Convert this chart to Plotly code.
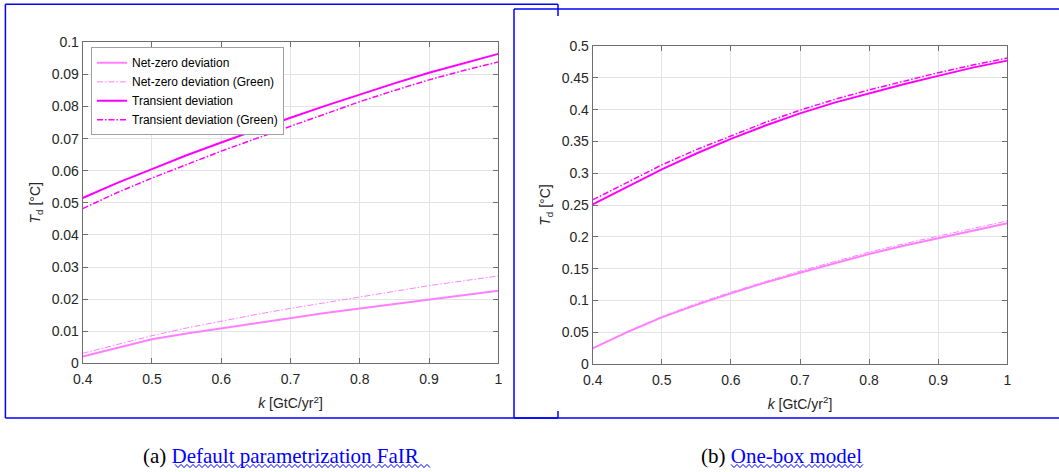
import plotly.graph_objects as go
from plotly.subplots import make_subplots

W, H = 1059, 472

# Emission-rate parameter k [GtC/yr^2]
k = [0.40, 0.45, 0.50, 0.55, 0.60, 0.65, 0.70, 0.75, 0.80, 0.85, 0.90, 0.95, 1.00]

# (a) Default parametrization FaIR
fair_netzero = [0.0021, 0.0048, 0.0075, 0.0093, 0.0109, 0.0126, 0.0142, 0.0157, 0.0171, 0.0185, 0.0199, 0.0213, 0.0226]
fair_netzero_green = [0.0031, 0.0059, 0.0086, 0.0110, 0.0132, 0.0152, 0.0171, 0.0189, 0.0207, 0.0225, 0.0242, 0.0257, 0.0272]
fair_transient = [0.0515, 0.0562, 0.0605, 0.0648, 0.0688, 0.0727, 0.0765, 0.0802, 0.0838, 0.0872, 0.0905, 0.0935, 0.0964]
fair_transient_green = [0.0482, 0.0532, 0.0577, 0.0620, 0.0661, 0.0700, 0.0738, 0.0775, 0.0815, 0.0850, 0.0883, 0.0912, 0.0939]

# (b) One-box model
box_netzero = [0.0246, 0.0500, 0.0734, 0.0930, 0.1110, 0.1280, 0.1436, 0.1580, 0.1730, 0.1860, 0.1976, 0.2100, 0.2212]
box_netzero_green = [0.0246, 0.0510, 0.0745, 0.0950, 0.1130, 0.1300, 0.1460, 0.1610, 0.1760, 0.1890, 0.2010, 0.2130, 0.2250]
box_transient = [0.251, 0.279, 0.306, 0.331, 0.354, 0.375, 0.394, 0.411, 0.426, 0.440, 0.453, 0.466, 0.477]
box_transient_green = [0.258, 0.286, 0.313, 0.337, 0.359, 0.380, 0.399, 0.416, 0.431, 0.445, 0.458, 0.470, 0.481]

x_ticks = [0.4, 0.5, 0.6, 0.7, 0.8, 0.9, 1.0]
x_tick_text = ["0.4", "0.5", "0.6", "0.7", "0.8", "0.9", "1"]
y_ticks_a = [0, 0.01, 0.02, 0.03, 0.04, 0.05, 0.06, 0.07, 0.08, 0.09, 0.1]
y_ticks_b = [0, 0.05, 0.1, 0.15, 0.2, 0.25, 0.3, 0.35, 0.4, 0.45, 0.5]

series_names = ["Net-zero deviation", "Net-zero deviation (Green)",
                "Transient deviation", "Transient deviation (Green)"]
captions = [("(a) ", "Default parametrization FaIR"), ("(b) ", "One-box model")]

LIGHT = "#ff80ff"
MAG = "#ff00ff"
DASHDOT = "6px,2px,1.5px,2px"
styles = [
    dict(color=LIGHT, width=2, dash="solid"),
    dict(color=LIGHT, width=1, dash=DASHDOT),
    dict(color=MAG, width=2, dash="solid"),
    dict(color=MAG, width=1.5, dash=DASHDOT),
]


def px(x):
    return x / W


def py(y):
    return 1 - y / H


fig = make_subplots(rows=1, cols=2)

panels = [
    [fair_netzero, fair_netzero_green, fair_transient, fair_transient_green],
    [box_netzero, box_netzero_green, box_transient, box_transient_green],
]
for col, data in enumerate(panels, start=1):
    for name, yv, st in zip(series_names, data, styles):
        fig.add_trace(
            go.Scatter(x=k, y=yv, mode="lines", name=name, line=st,
                       showlegend=(col == 1)),
            row=1, col=col,
        )

axis_font = dict(family="Liberation Sans, Arial", size=14, color="#262626")
common_x = dict(
    range=[0.4, 1.0], tickvals=x_ticks, ticktext=x_tick_text,
    showline=True, linecolor="#6e6e6e", linewidth=1, mirror="ticks",
    ticks="inside", ticklen=5, tickcolor="#6e6e6e",
    showgrid=True, gridcolor="#e3e3e3", gridwidth=1, zeroline=False,
    tickfont=axis_font, ticklabelstandoff=3, automargin=False,
    title=dict(text="<i>k</i> [GtC/yr<sup>2</sup>]", font=axis_font, standoff=12),
)
common_y = dict(
    showline=True, linecolor="#6e6e6e", linewidth=1, mirror="ticks",
    ticks="inside", ticklen=5, tickcolor="#6e6e6e",
    showgrid=True, gridcolor="#e3e3e3", gridwidth=1, zeroline=False,
    tickfont=axis_font, automargin=False,
    title=dict(text="<i>T</i><sub>d</sub> [°C]", font=axis_font, standoff=7),
)

fig.update_xaxes(common_x)
fig.update_yaxes(common_y)
fig.update_xaxes(domain=[px(82.7), px(498.3)], row=1, col=1)
fig.update_xaxes(domain=[px(592.7), px(1007.3)], row=1, col=2)
fig.update_yaxes(domain=[py(363.3), py(42.3)], range=[0, 0.1],
                 tickvals=y_ticks_a, row=1, col=1)
fig.update_yaxes(domain=[py(364), py(46)], range=[0, 0.5],
                 tickvals=y_ticks_b, row=1, col=2)

shapes = []
blue = dict(color="#0000ff", width=1.5)


def seg(x0, y0, x1, y1):
    shapes.append(dict(type="line", xref="paper", yref="paper",
                       x0=px(x0), y0=py(y0), x1=px(x1), y1=py(y1), line=blue))


# frame of panel (a)
seg(5.4, 4.3, 558, 4.3)
seg(5.4, 4.3, 5.4, 418)
seg(5.4, 418, 558, 418)
seg(558, 4.3, 558, 16)
seg(558, 411, 558, 418)
# frame of panel (b)
seg(514, 9, 1059, 9)
seg(514, 9, 514, 418)
seg(514, 418, 1059, 418)


def wavy(x0, x1, y, amp=1.6, period=6.0):
    pts = []
    n = int((x1 - x0) / (period / 2))
    for i in range(n + 1):
        xx = x0 + i * period / 2
        yy = y + (amp if i % 2 else -amp)
        pts.append(f"{px(xx):.5f},{py(yy):.5f}")
    return "M" + " L".join(pts)


caption_font = dict(family="Liberation Serif, Times New Roman", size=21, color="black")
caption_pos = [(281, 175, 432), (781, 731, 863)]
annotations = []
for (prefix, label), (cx, ux0, ux1) in zip(captions, caption_pos):
    annotations.append(dict(
        x=px(cx), y=py(456), xref="paper", yref="paper",
        xanchor="center", yanchor="middle", showarrow=False,
        text=f"{prefix}<span style='color:#0000ff'>{label}</span>",
        font=caption_font,
    ))
    shapes.append(dict(type="path", xref="paper", yref="paper",
                       path=wavy(ux0, ux1, 466),
                       line=dict(color="#0000ff", width=1)))

fig.update_layout(
    width=W, height=H,
    margin=dict(l=0, r=0, t=0, b=0),
    paper_bgcolor="white", plot_bgcolor="white",
    shapes=shapes, annotations=annotations,
    legend=dict(
        x=px(91), y=py(47.3), xanchor="left", yanchor="top",
        bgcolor="white", bordercolor="#a0a0a0", borderwidth=1,
        font=dict(family="Liberation Sans, Arial", size=12, color="black"),
        tracegroupgap=0, itemwidth=30,
    ),
)

fig.write_html("out.html")
